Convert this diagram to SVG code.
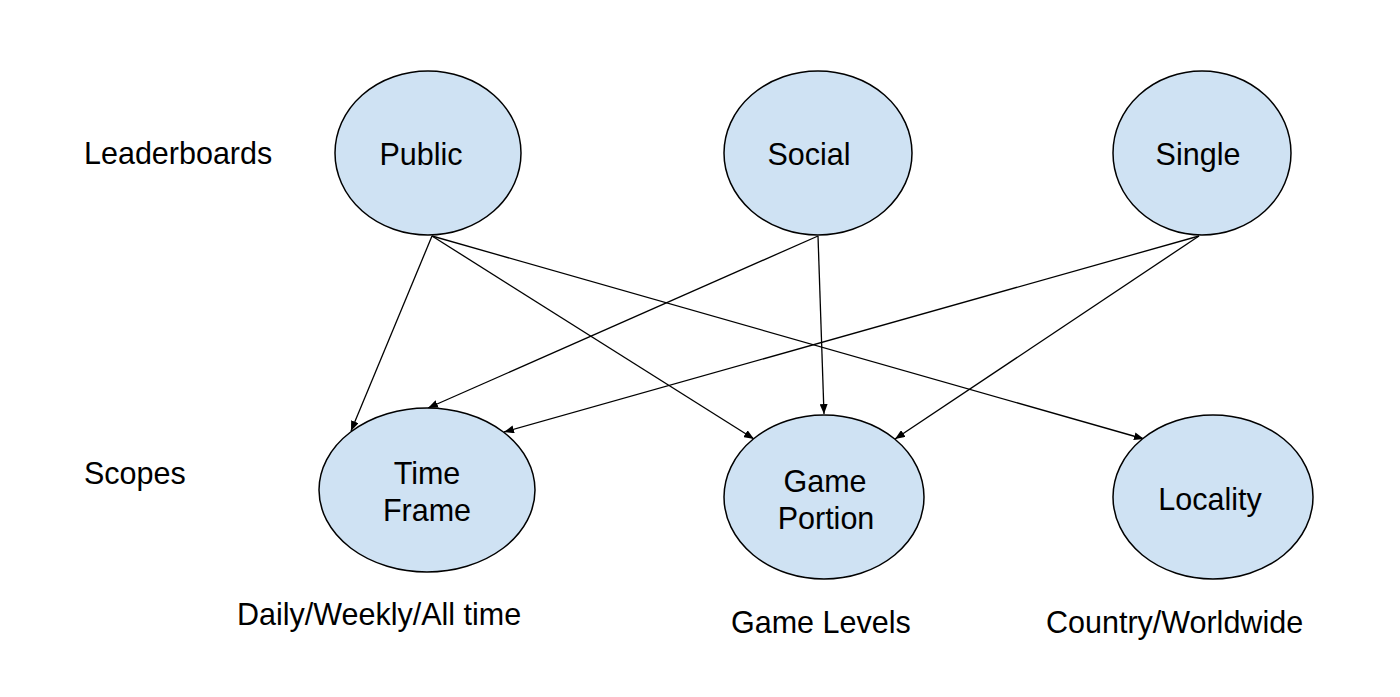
<svg xmlns="http://www.w3.org/2000/svg" width="1400" height="697" viewBox="0 0 1400 697">
<style>
.node{fill:#cfe2f3;stroke:#000;stroke-width:1.5}
.t{font-family:"Liberation Sans",Arial,sans-serif;font-size:30.5px;fill:#000}
.m{text-anchor:middle}
.c{stroke:#000;stroke-width:1.3;fill:none;marker-end:url(#ah)}
</style>
<defs>
<marker id="ah" viewBox="0 0 10 8" refX="10" refY="4" markerWidth="10" markerHeight="8" markerUnits="userSpaceOnUse" orient="auto">
<path d="M0,0 L10,4 L0,8 z" fill="#000"/>
</marker>
</defs>
<rect width="1400" height="697" fill="#fff"/>
<text class="t" x="84" y="164">Leaderboards</text>
<text class="t" x="84" y="484">Scopes</text>
<g id="connectors">
<line class="c" x1="432" y1="236" x2="351" y2="431"/>
<line class="c" x1="432" y1="236" x2="754" y2="439"/>
<line class="c" x1="432" y1="236" x2="1144" y2="439"/>
<line class="c" x1="818" y1="236" x2="428" y2="408"/>
<line class="c" x1="818" y1="236" x2="824" y2="414"/>
<line class="c" x1="1199" y1="236" x2="504" y2="432"/>
<line class="c" x1="1199" y1="236" x2="895" y2="439"/>
</g>
<g id="public"><ellipse class="node" cx="428" cy="153" rx="93" ry="82"/><text class="t m" x="421" y="165">Public</text></g>
<g id="social"><ellipse class="node" cx="818" cy="153" rx="94" ry="82"/><text class="t m" x="809" y="165">Social</text></g>
<g id="single"><ellipse class="node" cx="1202" cy="153" rx="89" ry="82"/><text class="t m" x="1198" y="165">Single</text></g>
<g id="timeframe"><ellipse class="node" cx="427" cy="490" rx="108" ry="82"/><text class="t m" x="427" y="484">Time</text><text class="t m" x="427" y="521">Frame</text></g>
<g id="gameportion"><ellipse class="node" cx="824" cy="497" rx="100" ry="82"/><text class="t m" x="825" y="492">Game</text><text class="t m" x="826" y="529">Portion</text></g>
<g id="locality"><ellipse class="node" cx="1213" cy="497" rx="100" ry="82"/><text class="t m" x="1210" y="510">Locality</text></g>
<text class="t" x="237" y="625">Daily/Weekly/All time</text>
<text class="t" x="731" y="633">Game Levels</text>
<text class="t" x="1046" y="633">Country/Worldwide</text>
</svg>
